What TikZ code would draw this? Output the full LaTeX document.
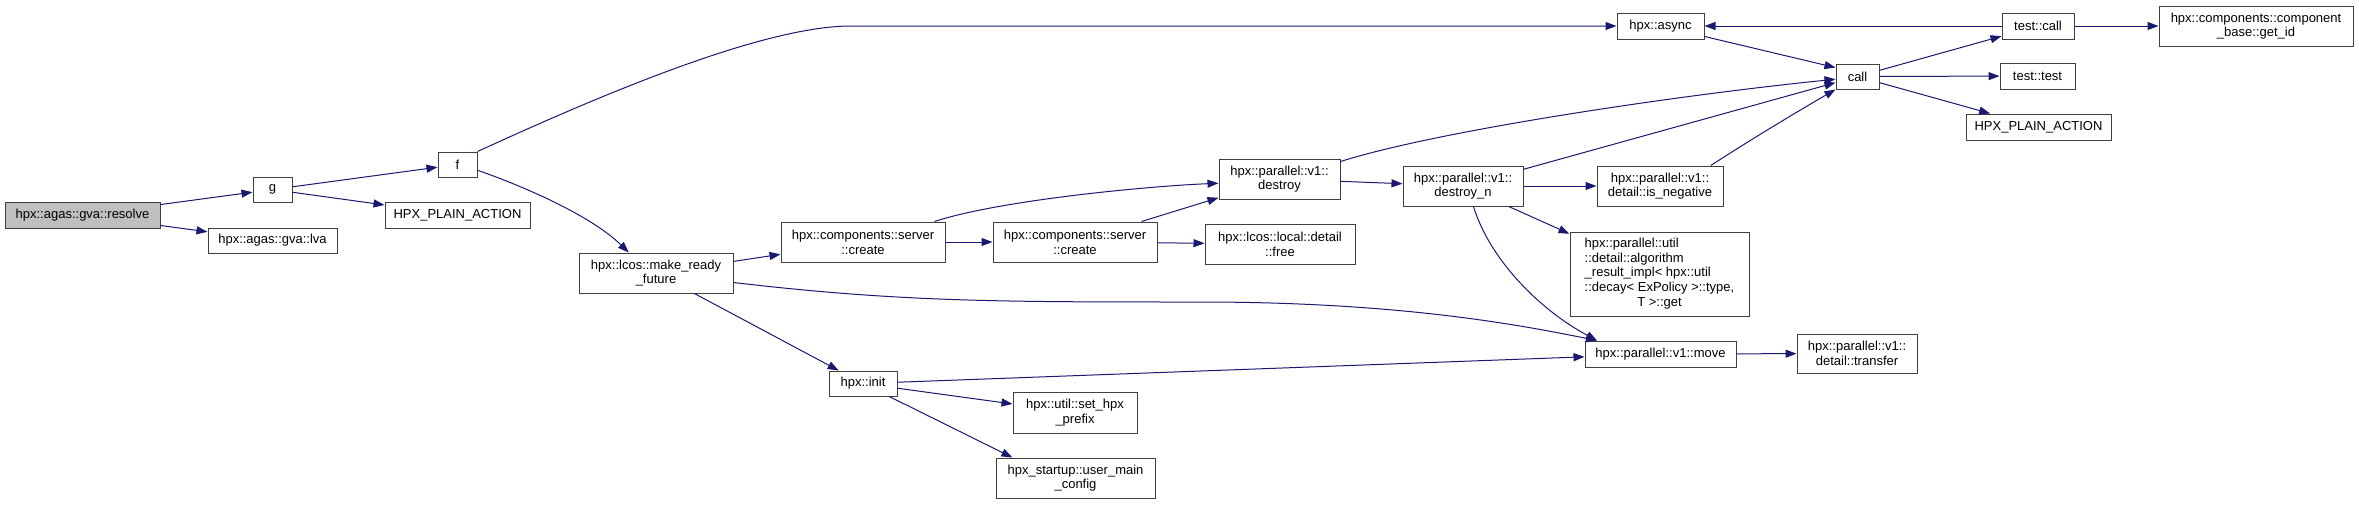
\documentclass[tikz,border=0pt]{standalone}
\usepackage{fontspec}
\setmainfont{Liberation Sans}
\usetikzlibrary{arrows.meta}
\definecolor{EdgeBlue}{RGB}{25,25,112}
\definecolor{BoxGray}{RGB}{191,191,191}
\definecolor{BoxLine}{RGB}{64,64,64}

\begin{document}
\begin{tikzpicture}[x=1pt, y=-1pt,
	fn/.style={draw=BoxLine, line width=1pt, fill=white, inner sep=0pt, align=center, font=\fontsize{13}{14.7}\selectfont},
	link/.style={-{Triangle[length=11pt,width=8pt]}, draw=EdgeBlue, line width=1pt}]
			\useasboundingbox (0,0) rectangle (2359,504);
			\node[fn, fill=BoxGray, minimum width=155, minimum height=26] (resolve) at (82.5,215) {hpx::agas::gva::resolve};
			\node[fn, minimum width=39, minimum height=25] (g) at (272.5,189.5) {g};
			\node[fn, minimum width=129, minimum height=25] (lva) at (272.5,240.5) {hpx::agas::gva::lva};
			\node[fn, minimum width=39, minimum height=25] (f) at (457.5,164.5) {f};
			\node[fn, minimum width=145, minimum height=26] (plainA) at (457.5,215) {HPX\_PLAIN\_ACTION};
			\node[fn, minimum width=154, minimum height=40] (mrf) at (656,273) {hpx::lcos::make\_ready\\\_future};
			\node[fn, minimum width=164, minimum height=40] (create1) at (863,242) {hpx::components::server\\::create};
			\node[fn, minimum width=68, minimum height=25] (init) at (863,383.5) {hpx::init};
			\node[fn, minimum width=164, minimum height=40] (create2) at (1075,242) {hpx::components::server\\::create};
			\node[fn, minimum width=124, minimum height=41] (prefix) at (1075,412.5) {hpx::util::set\_hpx\\\_prefix};
			\node[fn, minimum width=159, minimum height=40] (umc) at (1075.5,478) {hpx\_startup::user\_main\\\_config};
			\node[fn, minimum width=121, minimum height=40] (destroy) at (1279.5,179) {hpx::parallel::v1::\\destroy};
			\node[fn, minimum width=150, minimum height=40] (free) at (1280,244) {hpx::lcos::local::detail\\::free};
			\node[fn, minimum width=120, minimum height=40] (destroyn) at (1463,186) {hpx::parallel::v1::\\destroy\_n};
			\node[fn, minimum width=87, minimum height=26] (async) at (1660.5,26) {hpx::async};
			\node[fn, minimum width=126, minimum height=40] (isneg) at (1660,186) {hpx::parallel::v1::\\detail::is\_negative};
			\node[fn, minimum width=179, minimum height=84] (algo) at (1659.5,274) {\begin{tabular}{@{}l@{}}hpx::parallel::util\\::detail::algorithm\\\_result\_impl< hpx::util\\::decay< ExPolicy >::type,\\\multicolumn{1}{@{}c@{}}{T >::get}\end{tabular}};
			\node[fn, minimum width=151, minimum height=26] (move) at (1660.5,354) {hpx::parallel::v1::move};
			\node[fn, minimum width=43, minimum height=25] (call) at (1857.5,76.5) {call};
			\node[fn, minimum width=120, minimum height=39] (transfer) at (1857,353.5) {hpx::parallel::v1::\\detail::transfer};
			\node[fn, minimum width=72, minimum height=26] (tcall) at (2038,26) {test::call};
			\node[fn, minimum width=75, minimum height=26] (ttest) at (2037.5,76) {test::test};
			\node[fn, minimum width=145, minimum height=26] (plainB) at (2038.5,127) {HPX\_PLAIN\_ACTION};
			\node[fn, minimum width=194, minimum height=40] (getid) at (2256,26) {hpx::components::component\\\_base::get\_id};
			\draw[link] (resolve) -- (g);
			\draw[link] (resolve) -- (lva);
			\draw[link] (g) -- (f);
			\draw[link] (g) -- (plainA);
			\draw[link] (f.north east) .. controls (590,100) and (760,26) .. (851,26) -- (async);
			\draw[link] (f.-16) .. controls +(43,15) and +(-39,-38) .. (mrf.143);
			\draw[link] (mrf) -- (create1);
			\draw[link] (mrf.-7) .. controls (900,302) and (1000,302) .. (1200,302) .. controls (1400,302) and (1520,325) .. (move.168);
			\draw[link] (mrf) -- (init);
			\draw[link] (create1.16) .. controls (1000,200) and (1150,186) .. (destroy.-176);
			\draw[link] (create1) -- (create2);
			\draw[link] (create2) -- (destroy);
			\draw[link] (create2) -- (free);
			\draw[link] (destroy.16) .. controls (1440,130) and (1680,95) .. (call.187);
			\draw[link] (destroy) -- (destroyn);
			\draw[link] (destroyn) -- (call);
			\draw[link] (destroyn) -- (isneg);
			\draw[link] (destroyn) -- (algo);
			\draw[link] (destroyn.-63) .. controls (1490,260) and (1540,310) .. (move.168);
			\draw[link] (isneg.22) .. controls (1750,140) and (1800,110) .. (call.south west);
			\draw[link] (init) -- (move);
			\draw[link] (init) -- (prefix);
			\draw[link] (init) -- (umc.162);
			\draw[link] (move) -- (transfer);
			\draw[link] (async) -- (call.158);
			\draw[link] (tcall) -- (async);
			\draw[link] (tcall) -- (getid);
			\draw[link] (call) -- (tcall);
			\draw[link] (call) -- (ttest);
			\draw[link] (call) -- (plainB);
		\end{tikzpicture}
\end{document}
